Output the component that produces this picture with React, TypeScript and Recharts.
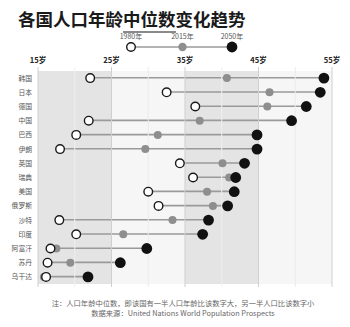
import React from 'react';
import {
  ComposedChart,
  XAxis,
  YAxis,
  Bar,
  Scatter,
  ReferenceArea,
  ReferenceLine,
} from 'recharts';

// Median age per country, UN World Population Prospects
const countries = ['韩国', '日本', '德国', '中国', '巴西', '伊朗', '英国', '瑞典', '美国', '俄罗斯', '沙特', '印度', '阿富汗', '苏丹', '乌干达'];
const median1980 = [22.1, 32.5, 36.4, 21.9, 20.2, 18.0, 34.3, 36.1, 30.0, 31.4, 17.9, 20.2, 16.7, 16.3, 16.1];
const median2015 = [40.7, 46.5, 46.2, 37.0, 31.3, 29.6, 40.1, 41.0, 38.0, 38.8, 33.3, 26.6, 17.5, 19.4, 15.8];
const median2050 = [53.9, 53.4, 51.5, 49.5, 44.8, 44.8, 43.1, 41.9, 41.7, 40.8, 38.2, 37.4, 29.8, 26.2, 21.8];
const ageTicks = [15, 25, 35, 45, 55];
const yearLabels = ['1980年', '2015年', '2050年'];

const rows = countries.map((name, i) => {
  const vals = [median1980[i], median2015[i], median2050[i]];
  return {
    name,
    y1980: median1980[i],
    y2015: median2015[i],
    y2050: median2050[i],
    span: [Math.min(...vals), Math.max(...vals)],
  };
});

const FONT = '"Noto Sans CJK SC", "Noto Sans", sans-serif';

const OpenDot = (p: any) => (
  <circle cx={p.cx} cy={p.cy} r={4.3} fill="#fff" stroke="#1a1a1a" strokeWidth={1.4} />
);
const GreyDot = (p: any) => <circle cx={p.cx} cy={p.cy} r={4} fill="#8e8e8e" />;
const BlackDot = (p: any) => <circle cx={p.cx} cy={p.cy} r={5.4} fill="#111" />;

export default function App() {
  return (
    <div
      style={{
        position: 'absolute',
        left: 0,
        top: 0,
        width: 350,
        height: 327,
        background: '#fff',
        fontFamily: FONT,
        overflow: 'hidden',
      }}
    >
      {/* title */}
      <div
        style={{
          position: 'absolute',
          left: 18,
          top: 6,
          fontSize: 17.5,
          fontWeight: 700,
          color: '#1a1a1a',
          lineHeight: '26px',
          whiteSpace: 'nowrap',
        }}
      >
        各国人口年龄
        <span style={{ borderBottom: '2px solid #8a8a8a', paddingBottom: 0 }}>中位数</span>
        变化趋势
      </div>

      {/* legend */}
      <svg style={{ position: 'absolute', left: 0, top: 0 }} width={350} height={60}>
        <line x1={131} y1={47} x2={232} y2={47} stroke="#9a9a9a" strokeWidth={1.5} />
        <circle cx={131} cy={47} r={4.3} fill="#fff" stroke="#1a1a1a" strokeWidth={1.4} />
        <circle cx={182.5} cy={47} r={4.2} fill="#8e8e8e" />
        <circle cx={232} cy={47} r={5.4} fill="#111" />
        {[131, 182.5, 232].map((x, i) => (
          <text key={yearLabels[i]} x={x} y={39} textAnchor="middle" fontSize={7} fill="#555" fontFamily={FONT}>
            {yearLabels[i]}
          </text>
        ))}
      </svg>

      <div style={{ position: 'absolute', left: 0, top: 0 }}>
        <ComposedChart
          width={350}
          height={327}
          data={rows}
          layout="vertical"
          margin={{ top: 53, right: 18, bottom: 40, left: 0 }}
          barCategoryGap={0}
        >
          <XAxis
            type="number"
            orientation="top"
            domain={[15, 55]}
            ticks={ageTicks}
            allowDataOverflow
            tickFormatter={(v: number) => `${v}岁`}
            axisLine={false}
            tickLine={false}
            tickSize={0}
            tickMargin={4}
            height={14}
            tick={{ fontSize: 7.5, fill: '#222', fontWeight: 700, fontFamily: FONT }}
          />
          <YAxis
            type="category"
            dataKey="name"
            width={38}
            axisLine={false}
            tickLine={false}
            tickSize={0}
            tickMargin={6}
            interval={0}
            padding={{ top: 4, bottom: 3 }}
            tick={{ fontSize: 6.8, fill: '#555', fontFamily: FONT }}
          />
          <ReferenceArea x1={15} x2={25} fill="#e4e4e4" fillOpacity={1} stroke="none" ifOverflow="visible" />
          <ReferenceArea x1={25} x2={35} fill="#f6f6f6" fillOpacity={1} stroke="none" ifOverflow="visible" />
          <ReferenceArea x1={35} x2={45} fill="#e4e4e4" fillOpacity={1} stroke="none" ifOverflow="visible" />
          <ReferenceArea x1={45} x2={55} fill="#f6f6f6" fillOpacity={1} stroke="none" ifOverflow="visible" />
          <ReferenceLine x={20} stroke="#efefef" strokeWidth={1} />
          <ReferenceLine x={40} stroke="#efefef" strokeWidth={1} />
          <ReferenceLine x={30} stroke="#ebebeb" strokeWidth={1} />
          <ReferenceLine x={50} stroke="#ebebeb" strokeWidth={1} />
          <ReferenceLine x={15} stroke="#cfcfcf" strokeWidth={1} />
          <ReferenceLine x={25} stroke="#cfcfcf" strokeWidth={1} />
          <ReferenceLine x={35} stroke="#cfcfcf" strokeWidth={1} />
          <ReferenceLine x={45} stroke="#cfcfcf" strokeWidth={1} />
          <ReferenceLine x={55} stroke="#cfcfcf" strokeWidth={1} />
          <Bar dataKey="span" barSize={1.6} fill="#9a9a9a" isAnimationActive={false} />
          <Scatter dataKey="y2015" shape={GreyDot} isAnimationActive={false} />
          <Scatter dataKey="y1980" shape={OpenDot} isAnimationActive={false} />
          <Scatter dataKey="y2050" shape={BlackDot} isAnimationActive={false} />
        </ComposedChart>
      </div>

      {/* footnote */}
      <div
        style={{
          position: 'absolute',
          left: 0,
          width: 366,
          top: 298,
          textAlign: 'center',
          fontSize: 7.3,
          lineHeight: '10px',
          color: '#666',
          whiteSpace: 'nowrap',
        }}
      >
        <div>注：人口年龄中位数，即该国有一半人口年龄比该数字大，另一半人口比该数字小</div>
        <div>数据来源：United Nations World Population Prospects</div>
      </div>
    </div>
  );
}
